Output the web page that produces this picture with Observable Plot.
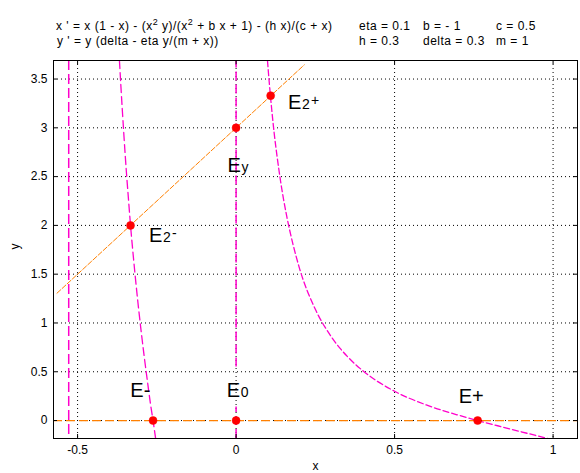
<!DOCTYPE html>
<html><head><meta charset="utf-8">
<script src="https://cdn.jsdelivr.net/npm/d3@7"></script>
<script src="https://cdn.jsdelivr.net/npm/@observablehq/plot@0.6"></script>
<style>
body{margin:0;background:#fff;font-family:"Liberation Sans",Arial,sans-serif;}
#wrap{position:relative;width:580px;height:473px;background:#fff;}
#hdr{position:absolute;left:0;top:0;}
#chart{position:absolute;left:0;top:50px;}
</style></head><body>
<div id="wrap"><svg id="hdr" width="580" height="50"></svg><div id="chart"></div></div>
<script>
// ---- header text ----
const eqLines = ["x ' = x (1 - x) - (x^2 y)/(x^2 + b x + 1) - (h x)/(c + x)", "y ' = y (delta - eta y/(m + x))"];
const paramRows = [["eta = 0.1", "b = - 1", "c = 0.5"], ["h = 0.3", "delta = 0.3", "m = 1"]];

// ---- axes ----
const xTicks = [-0.5, 0, 0.5, 1];
const yTicks = [0, 0.5, 1, 1.5, 2, 2.5, 3, 3.5];
const xDomain = [-0.576, 1.077];
const yDomain = [-0.184, 3.69];

// ---- x-nullclines (magenta) ----
const leftBranchX = [-0.368, -0.364, -0.36, -0.355, -0.35, -0.345, -0.34, -0.333, -0.325, -0.32, -0.31, -0.30, -0.29, -0.28, -0.27, -0.262, -0.254];
const leftBranchY = [3.69, 3.46, 3.24, 2.98, 2.73, 2.50, 2.29, 2.0, 1.71, 1.54, 1.22, 0.93, 0.66, 0.41, 0.17, 0, -0.18];
const rightBranchX = [0.099, 0.105, 0.11, 0.12, 0.13, 0.14, 0.16, 0.18, 0.2, 0.25, 0.3, 0.35, 0.4, 0.5, 0.6, 0.7, 0.762, 0.85, 0.95, 0.985];
const rightBranchY = [3.69, 3.45, 3.27, 2.95, 2.69, 2.46, 2.09, 1.80, 1.56, 1.14, 0.86, 0.66, 0.51, 0.30, 0.16, 0.056, 0, -0.074, -0.157, -0.186];
const poleLineX = [-0.528];
const zeroSegY1 = [-0.184, 0.55];
const zeroSegY2 = [0.14, 3.69];

// ---- y-nullclines (orange) ----
const diagX = [-0.565, 0.215];
const diagY = [1.305, 3.645];
const zeroLineY = [0];

// ---- equilibria ----
const eqX = [-0.262, 0, 0.762, 0, 0.109, -0.333];
const eqY = [0, 0, 0, 3, 3.33, 2];

// ---- equilibrium labels ----
const labX = [-0.3337, -0.0294, 0.702, -0.027, 0.164, -0.275];
const labY = [0.241, 0.239, 0.181, 2.551, 3.194, 1.827];
const labMain = ["E-", "E", "E+", "E", "E", "E"];
const labSub = ["", "0", "", "y", "2", "2"];
const labSup = ["", "", "", "", "+", "-"];

const magenta = "#ff00cc", orange = "#ff8000", red = "#ff0000";
const FONT = "Liberation Sans, Arial, sans-serif";

// header
const hdr = d3.select("#hdr").attr("font-family", FONT).attr("font-size", 12).attr("letter-spacing", "0.5px");
function eqText(sel, s) {
  const parts = s.split("^2");
  parts.forEach((p, i) => {
    if (i > 0) sel.append("tspan").attr("dy", -5).attr("font-size", 9).text("2");
    sel.append("tspan").attr("dy", i > 0 ? 5 : 0).text(p);
  });
}
eqText(hdr.append("text").attr("x", 56).attr("y", 30).attr("xml:space", "preserve"), eqLines[0]);
eqText(hdr.append("text").attr("x", 57).attr("y", 45), eqLines[1]);
const colX = [359, 423, 496];
paramRows.forEach((row, r) => row.forEach((t, c) =>
  hdr.append("text").attr("x", colX[c]).attr("y", r === 0 ? 30 : 45).text(t)));

const branch = (xs, ys) => xs.map((x, i) => ({x, y: ys[i]}));
const zeroSegs = zeroSegY1.map((y1, i) => ({x: 0, y1, y2: zeroSegY2[i]}));
const eqs = eqX.map((x, i) => ({x, y: eqY[i]}));
const labs = labX.map((x, i) => ({x, y: labY[i], m: labMain[i], s: labSub[i], p: labSup[i]}));

const W = 580, H = 423, mT = 10, mB = 35, mL = 53, mR = 3;
const pw = W - mL - mR, ph = H - mT - mB, tk = 4;

const chart = Plot.plot({
  width: W, height: H,
  marginTop: mT, marginBottom: mB, marginLeft: mL, marginRight: mR,
  x: {domain: xDomain},
  y: {domain: yDomain},
  style: {fontFamily: FONT, fontSize: "12px", background: "white", color: "black", overflow: "visible"},
  marks: [
    Plot.gridX(xTicks, {stroke: "black", strokeOpacity: 1, strokeDasharray: "1,3"}),
    Plot.gridY(yTicks, {stroke: "black", strokeOpacity: 1, strokeDasharray: "1,3"}),
    Plot.ruleX(poleLineX, {stroke: magenta, strokeWidth: 1.5, strokeDasharray: "10,4"}),
    Plot.ruleX(zeroSegs, {x: "x", y1: "y1", y2: "y2", stroke: magenta, strokeWidth: 1.5, strokeDasharray: "9,4"}),
    Plot.line(branch(leftBranchX, leftBranchY), {x: "x", y: "y", curve: "monotone-x", stroke: magenta, strokeWidth: 1.3, strokeDasharray: "8,4", clip: true}),
    Plot.line(branch(rightBranchX, rightBranchY), {x: "x", y: "y", curve: "monotone-x", stroke: magenta, strokeWidth: 1.3, strokeDasharray: "6,3", clip: true}),
    Plot.ruleY(zeroLineY, {stroke: orange, strokeWidth: 1.3, strokeDasharray: "9,4"}),
    Plot.line(branch(diagX, diagY), {x: "x", y: "y", stroke: orange, strokeWidth: 1, strokeDasharray: "5,2"}),
    Plot.dot(eqs, {x: "x", y: "y", r: 4, fill: red, stroke: red, strokeWidth: 0.5}),
    Plot.text(labs, {x: "x", y: "y", text: "m", textAnchor: "start", lineAnchor: "bottom", fontSize: 20, fill: "black"}),
    Plot.text(labs, {x: "x", y: "y", text: "s", textAnchor: "start", lineAnchor: "bottom", fontSize: 14, dx: 14, fill: "black"}),
    Plot.text(labs, {x: "x", y: "y", text: "p", textAnchor: "start", lineAnchor: "bottom", fontSize: 14, dx: 23, dy: -4, fill: "black"}),
    Plot.frame({stroke: "black"}),
    Plot.tickX(xTicks, {x: d => d, insetTop: ph - tk, stroke: "black"}),
    Plot.tickX(xTicks, {x: d => d, insetBottom: ph - tk, stroke: "black"}),
    Plot.tickY(yTicks, {y: d => d, insetRight: pw - tk, stroke: "black"}),
    Plot.tickY(yTicks, {y: d => d, insetLeft: pw - tk, stroke: "black"}),
    Plot.axisX(xTicks, {tickSize: 0, tickPadding: 7, label: null, tickFormat: d => String(d), fontSize: 12}),
    Plot.axisY(yTicks, {tickSize: 0, tickPadding: 6, label: null, tickFormat: d => String(d), fontSize: 12}),
    Plot.text(["x"], {frameAnchor: "bottom", dy: 28, fontSize: 12, lineAnchor: "middle"}),
    Plot.text(["y"], {frameAnchor: "left", dx: -38, rotate: -90, fontSize: 12, lineAnchor: "middle"})
  ]
});
document.getElementById("chart").appendChild(chart);
</script>
</body></html>
